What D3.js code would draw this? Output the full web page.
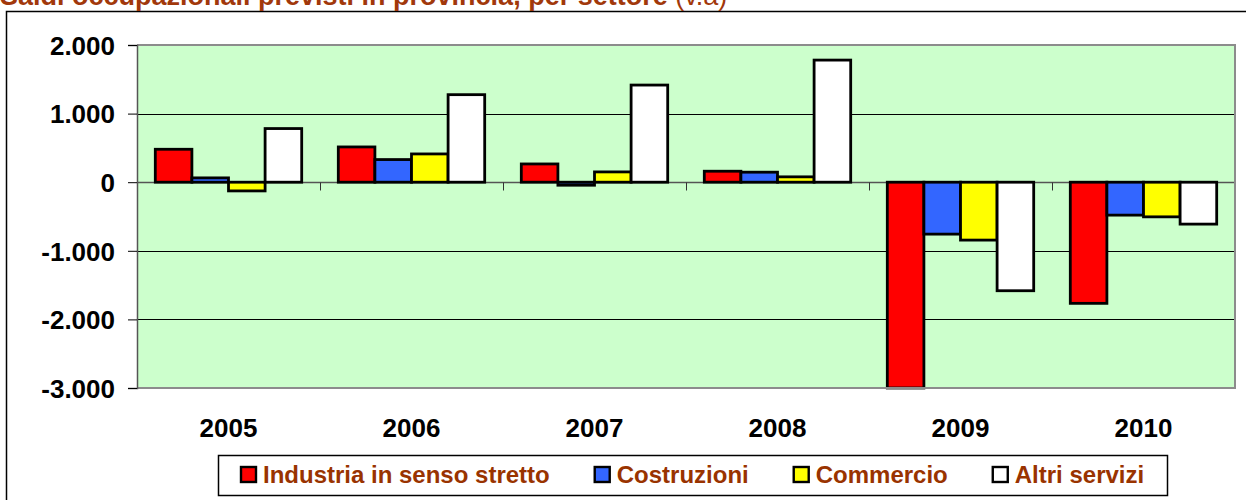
<!DOCTYPE html>
<html lang="it">
<head>
  <meta charset="utf-8">
  <title>Saldi occupazionali</title>
  <style>
    body { margin: 0; background: #fff; }
    svg  { display: block; font-family: "Liberation Sans", Arial, sans-serif; }
    .axis text { font-size: 26px; font-weight: bold; fill: #000; }
  </style>
</head>
<body>
<script src="https://cdn.jsdelivr.net/npm/d3@7"></script>
<script>
  // data
  var years   = ["2005", "2006", "2007", "2008", "2009", "2010"];
  var sectors = ["Industria in senso stretto", "Costruzioni", "Commercio", "Altri servizi"];
  var colors  = ["#ff0000", "#3366ff", "#ffff00", "#ffffff"];

  var industria = [480, 514, 266, 160, -3000, -1766];
  var costruz   = [63, 330, -44, 146, -757, -480];
  var commercio = [-127, 412, 150, 78, -844, -505];
  var altri     = [782, 1276, 1416, 1780, -1582, -611];

  var yTicks = [2000, 1000, 0, -1000, -2000, -3000];

  var series = [industria, costruz, commercio, altri];

  var width = 1246, height = 500;
  var plot = { left: 137, right: 1235, top: 45, bottom: 388 };

  var svg = d3.select("body").append("svg")
      .attr("width", width)
      .attr("height", height);

  // outer frame
  svg.append("rect")
      .attr("x", 6.5).attr("y", 11.5)
      .attr("width", 1260).attr("height", 520)
      .attr("fill", "none")
      .attr("stroke", "#000")
      .attr("stroke-width", 1.5);

  // title (cut at top in the source)
  var title = svg.append("text")
      .attr("x", 0).attr("y", 5)
      .attr("fill", "#a1380b")
      .style("font-size", "27px");
  title.append("tspan").attr("font-weight", "bold")
      .text("Saldi occupazionali previsti in provincia, per settore");
  title.append("tspan").text(" (v.a)");

  var x0 = d3.scaleBand().domain(years).range([plot.left, plot.right]).padding(0);
  var off = x0.bandwidth() * 0.1;
  var x1 = d3.scaleBand().domain(d3.range(sectors.length))
      .range([off, x0.bandwidth() - off]).padding(0);

  var y = d3.scaleLinear().domain([-3000, 2000]).range([plot.bottom, plot.top]);

  // plot background
  svg.append("rect")
      .attr("x", plot.left).attr("y", plot.top)
      .attr("width", plot.right - plot.left)
      .attr("height", plot.bottom - plot.top)
      .attr("fill", "#ccffcc");

  // gridlines
  svg.append("g").selectAll("line")
    .data(yTicks.filter(function(d) { return d !== 0 && d !== 2000 && d !== -3000; }))
    .enter().append("line")
      .attr("x1", plot.left).attr("x2", plot.right)
      .attr("y1", function(d) { return Math.round(y(d)) + 0.5; })
      .attr("y2", function(d) { return Math.round(y(d)) + 0.5; })
      .attr("stroke", "#000").attr("stroke-width", 1);

  // zero axis with category ticks
  var zeroY = Math.round(y(0)) + 0.5;
  svg.append("line")
      .attr("x1", plot.left).attr("x2", plot.right)
      .attr("y1", zeroY).attr("y2", zeroY)
      .attr("stroke", "#555").attr("stroke-width", 1.5);
  svg.append("g").selectAll("line")
    .data(years.map(function(d) { return x0(d); }).concat([plot.right]))
    .enter().append("line")
      .attr("x1", function(d) { return Math.round(d) + 0.5; })
      .attr("x2", function(d) { return Math.round(d) + 0.5; })
      .attr("y1", zeroY).attr("y2", zeroY + 8)
      .attr("stroke", "#333").attr("stroke-width", 1);

  // bars
  svg.append("clipPath").attr("id", "clip")
    .append("rect")
      .attr("x", plot.left - 2).attr("y", plot.top - 2)
      .attr("width", plot.right - plot.left + 4).attr("height", plot.bottom - plot.top + 4);

  var groups = svg.append("g").attr("clip-path", "url(#clip)")
    .selectAll("g")
    .data(years)
    .enter().append("g")
      .attr("transform", function(d) { return "translate(" + x0(d) + ",0)"; });

  groups.selectAll("rect")
    .data(function(d, i) { return series.map(function(s, k) { return { k: k, v: s[i] }; }); })
    .enter().append("rect")
      .attr("x", function(d) { return x1(d.k); })
      .attr("width", x1.bandwidth())
      .attr("y", function(d) { return y(Math.max(0, d.v)); })
      .attr("height", function(d) { return Math.abs(y(d.v) - y(0)); })
      .attr("fill", function(d) { return colors[d.k]; })
      .attr("stroke", "#000")
      .attr("stroke-width", 2.8);

  // plot border (grey)
  svg.append("path")
      .attr("d", "M" + plot.left + "," + plot.top + "H" + plot.right + "V" + plot.bottom + "H" + plot.left)
      .attr("fill", "none")
      .attr("stroke", "#8c8c8c")
      .attr("stroke-width", 2);

  // y axis
  var fmt = function(d) { return d3.format(",")(d).replace(/,/g, ".").replace("\u2212", "-"); };
  var yAxis = svg.append("g")
      .attr("class", "axis")
      .attr("transform", "translate(" + plot.left + ",0)")
      .call(d3.axisLeft(y).tickValues(yTicks).tickFormat(fmt).tickSize(9).tickPadding(13));
  yAxis.select(".domain").attr("stroke", "#555").attr("stroke-width", 1.5);
  yAxis.selectAll(".tick line").attr("stroke", "#000");
  yAxis.selectAll("text").attr("dy", "0.36em");

  // x labels
  svg.append("g").attr("class", "axis")
    .selectAll("text")
    .data(years)
    .enter().append("text")
      .attr("x", function(d) { return x0(d) + x0.bandwidth() / 2; })
      .attr("y", 437)
      .attr("text-anchor", "middle")
      .text(function(d) { return d; });

  // legend
  var legend = svg.append("g");
  legend.append("rect")
      .attr("x", 218.5).attr("y", 455.5)
      .attr("width", 949).attr("height", 40)
      .attr("fill", "#fff")
      .attr("stroke", "#000")
      .attr("stroke-width", 1.5);

  var lx = 241;
  sectors.forEach(function(name, k) {
    legend.append("rect")
        .attr("x", lx).attr("y", 467)
        .attr("width", 15).attr("height", 15)
        .attr("fill", colors[k])
        .attr("stroke", "#000")
        .attr("stroke-width", 2.4);
    var t = legend.append("text")
        .attr("x", lx + 22).attr("y", 483)
        .attr("fill", "#993300")
        .style("font-size", "24px")
        .style("font-weight", "bold")
        .text(name);
    lx += 22 + t.node().getComputedTextLength() + 45;
  });
</script>
</body>
</html>
